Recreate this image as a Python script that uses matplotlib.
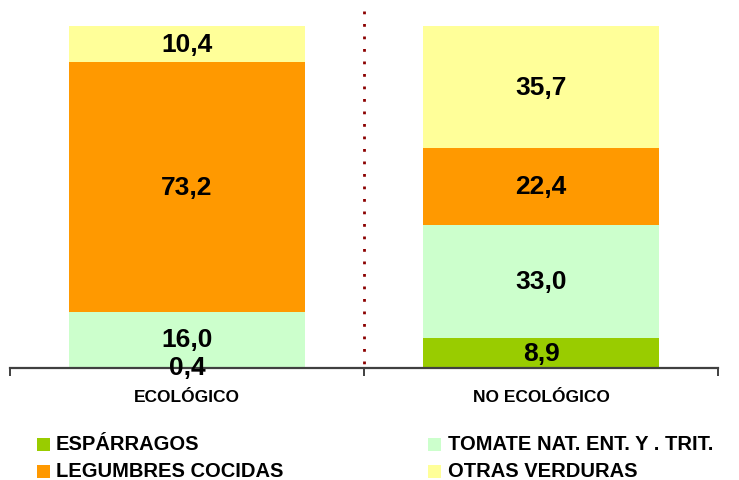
import matplotlib
matplotlib.use("Agg")
import matplotlib.pyplot as plt
from matplotlib.patches import Rectangle

categories = ["ECOLÓGICO", "NO ECOLÓGICO"]
series_names = ["ESPÁRRAGOS", "TOMATE NAT. ENT. Y . TRIT.", "LEGUMBRES COCIDAS", "OTRAS VERDURAS"]
esparragos = [0.4, 8.9]
tomate = [16.0, 33.0]
legumbres = [73.2, 22.4]
otras = [10.4, 35.7]
value_labels = [["0,4", "8,9"], ["16,0", "33,0"], ["73,2", "22,4"], ["10,4", "35,7"]]

colors = ["#99CC00", "#CCFFCC", "#FF9900", "#FFFF99"]

plt.rcParams['font.family'] = ['Liberation Sans', 'DejaVu Sans']

fig = plt.figure(figsize=(7.39, 4.81), dpi=100)
ax = fig.add_axes([10/739, 1-369/481, 708/739, 342/481])

x = [0, 1]
width = 0.665
series = [esparragos, tomate, legumbres, otras]
bottom = [0.0, 0.0]
for s, c, labs in zip(series, colors, value_labels):
    ax.bar(x, s, width, bottom=bottom, color=c, edgecolor='none', zorder=2)
    for i in range(2):
        ax.text(x[i], bottom[i] + s[i]/2, labs[i], ha='center', va='center',
                fontsize=19, fontweight='bold', color='black', clip_on=False, zorder=5)
    bottom = [b + v for b, v in zip(bottom, s)]

ax.set_xlim(-0.5, 1.5)
ax.set_ylim(0, 100)
for sp in ['top', 'right', 'left']:
    ax.spines[sp].set_visible(False)
ax.spines['bottom'].set_color('#404040')
ax.spines['bottom'].set_linewidth(1.6)
ax.spines['bottom'].set_zorder(4)
ax.set_yticks([])
ax.set_xticks([-0.5, 0.5, 1.5])
ax.set_xticklabels([])
ax.tick_params(axis='x', direction='out', length=6, width=1.4, color='#404040')
for i, cat in enumerate(categories):
    ax.text(x[i], -8.2, cat, ha='center', va='center', fontsize=12.5,
            fontweight='bold', transform=ax.transData, clip_on=False)

ax.plot([0.5, 0.5], [104.4, -1.5], linestyle=(0, (1, 3.5)), color='#8B0000',
        linewidth=2, clip_on=False, zorder=3)

# legend
leg_items = [(37, 56, 445, 0), (428, 448, 445, 1), (37, 56, 472, 2), (428, 448, 472, 3)]
for (mx, tx, py, k) in leg_items:
    fig.patches.append(Rectangle((mx/739, 1-(py+6.5)/481), 13/739, 13/481,
                                 transform=fig.transFigure, facecolor=colors[k],
                                 edgecolor='none'))
    fig.text(tx/739, 1-py/481, series_names[k], ha='left', va='center',
             fontsize=14.5, fontweight='bold')

fig.savefig("out.png", dpi=100)
